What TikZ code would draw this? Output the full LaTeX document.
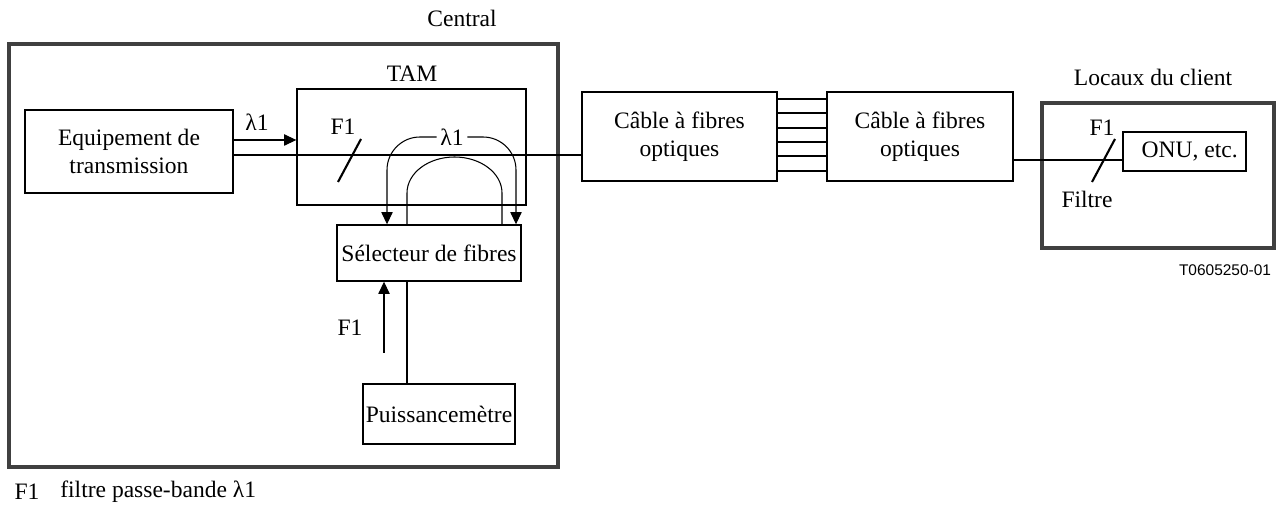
\documentclass[tikz,border=0pt]{standalone}
\usepackage{fontspec}
\setmainfont{Liberation Serif}
\newfontfamily\labelsans{Liberation Sans}
\usepackage{tikz}
\usetikzlibrary{arrows.meta,positioning}

\tikzset{
  box/.style = {draw, line width=0.8pt, inner sep=1pt, align=center},
  site/.style = {draw=black!75, line width=1.8pt},
  fibre/.style = {line width=0.6pt},
  filt/.style = {line width=1.2pt},
  arr/.style = {-{Triangle[length=7pt,width=6.5pt]}, line width=0.6pt}
}

\begin{document}
\begin{tikzpicture}[x=0.02cm, y=0.02cm, font=\fontsize{13.4}{15.9}\selectfont]
\useasboundingbox (0,0) rectangle (1281,-509);

% central office
\node[site, minimum width=10.98cm, minimum height=8.46cm] (central) at (283.5,-255.5) {};
\node () at (462,-18) {Central};
\node[box, minimum width=4.16cm, minimum height=1.66cm] (equip) at (129,-151.5) {Equipement de\\transmission};
\node[box, minimum width=4.58cm, minimum height=2.32cm] (tam) at (411.5,-147) {};
\node () at (412,-74) {TAM};
\node[box, minimum width=3.68cm, minimum height=1.12cm] (sel) at (429,-253) {S\'electeur de fibres};
\node[box, minimum width=3.04cm, minimum height=1.2cm] (pwr) at (439,-414) {Puissancem\`etre};

% cables
\node[box, minimum width=3.9cm, minimum height=1.78cm] (cab1) at (679.5,-136.5) {C\^able \`a fibres\\optiques};
\node[box, minimum width=3.72cm, minimum height=1.78cm] (cab2) at (920,-136.5) {C\^able \`a fibres\\optiques};

% customer premises
\node[site, minimum width=4.64cm, minimum height=2.9cm] (client) at (1158,-175.5) {};
\node () at (1153,-77) {Locaux du client};
\node[box, minimum width=2.46cm, minimum height=0.78cm] (onu) at (1184.5,-151.5) {\hspace{6pt}ONU, etc.};

% fibre path
\coordinate (fib) at (0,-155);
\draw[fibre] (equip.east |- fib) -- (cab1.west |- fib);
\foreach \y in {99,113,128,142,156,171}
  \draw[fibre] (cab1.east |- 0,-\y) -- (cab2.west |- 0,-\y);
\coordinate (drop) at (0,-160);
\draw[fibre] (cab2.east |- drop) -- (onu.west |- drop);

% wavelength into TAM
\draw[arr] (equip.east |- 0,-140) -- (tam.west |- 0,-140);
\node () at (257,-122) {λ1};

% filters
\draw[filt] (338,-182) -- (361,-139);
\node () at (343,-127) {F1};
\draw[filt] (1092,-182) -- (1115,-139);
\node () at (1102,-128) {F1};
\node () at (1087,-199) {Filtre};

% loop through the selector
\node[inner sep=2pt] (lam) at (452,-137) {λ1};
\draw[arr, rounded corners=0.66cm] (lam.west) -| (sel.north -| 387,0);
\draw[arr, rounded corners=0.66cm] (lam.east) -| (sel.north -| 516,0);
\draw[fibre] (sel.north -| 407,0) -- (407,-193) arc[start angle=180, end angle=0, x radius=47.5, y radius=36] -- (sel.north -| 502,0);

% power meter
\draw[fibre] (sel.south -| 407,0) -- (pwr.north -| 407,0);
\draw[arr] (384,-353) -- (sel.south -| 384,0);
\node () at (350,-328) {F1};

\node () at (1225,-270) {\labelsans\fontsize{8.8}{10}\selectfont T0605250-01};
\node () at (27,-492) {F1};
\node[anchor=west, inner sep=0pt] () at (60,-492) {filtre passe-bande λ1};
\end{tikzpicture}
\end{document}
